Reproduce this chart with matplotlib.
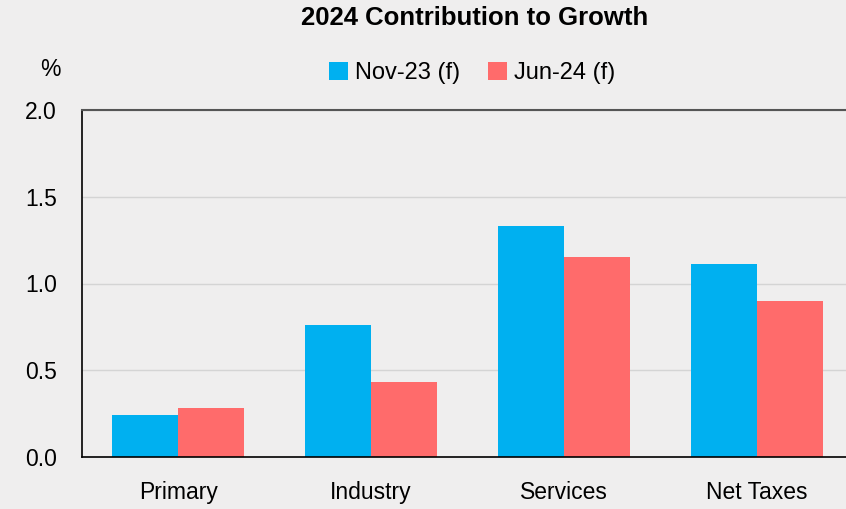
import matplotlib
matplotlib.use("Agg")
import matplotlib.pyplot as plt
import numpy as np

plt.rcParams['font.family'] = ['Liberation Sans', 'DejaVu Sans']

categories = ["Primary", "Industry", "Services", "Net Taxes"]
nov23 = [0.24, 0.76, 1.33, 1.11]
jun24 = [0.28, 0.43, 1.15, 0.90]
series_names = ["Nov-23 (f)", "Jun-24 (f)"]
yticks = [0.0, 0.5, 1.0, 1.5, 2.0]

W, H = 846, 509
fig = plt.figure(figsize=(W/100, H/100), dpi=100)
bg = '#efeeee'
fig.patch.set_facecolor(bg)
ax = fig.add_axes([82/W, 1-457/H, (853-82)/W, (457-110)/H])
ax.set_facecolor(bg)

x = np.arange(len(categories))
w = 0.343
b1 = ax.bar(x - w/2, nov23, w, color='#00b0f0', label=series_names[0])
b2 = ax.bar(x + w/2, jun24, w, color='#ff6b6b', label=series_names[1])

ax.set_xlim(-0.5, 3.5)
ax.set_ylim(0, 2.0)
ax.set_yticks(yticks)
ax.set_yticklabels([f"{v:.1f}" for v in yticks], fontsize=16.5)
ax.set_xticks(x)
ax.set_xticklabels(categories, fontsize=16.5)
ax.tick_params(axis='both', length=0)
ax.tick_params(axis='x', pad=17)
ax.tick_params(axis='y', pad=18)
ax.yaxis.grid(True, color='#d4d4d4', linewidth=1)
ax.set_axisbelow(True)
for s in ['left', 'bottom']:
    ax.spines[s].set_color('black')
    ax.spines[s].set_linewidth(1.2)
ax.spines['top'].set_color('#555555')
ax.spines['top'].set_linewidth(1.5)
ax.spines['right'].set_visible(False)

fig.text(475/W, 1-18/H, "2024 Contribution to Growth", ha='center', va='center',
         fontsize=18.5, fontweight='bold')
fig.text(50/W, 1-70/H, "%", ha='center', va='center', fontsize=16.5)
leg = fig.legend(handles=[b1, b2], loc='center', bbox_to_anchor=(472/W, 1-73/H),
                 ncol=2, frameon=False, fontsize=17, handlelength=0.8, handleheight=0.8,
                 handletextpad=0.3, columnspacing=1.2)

fig.savefig("out.png", dpi=100, facecolor=bg)
